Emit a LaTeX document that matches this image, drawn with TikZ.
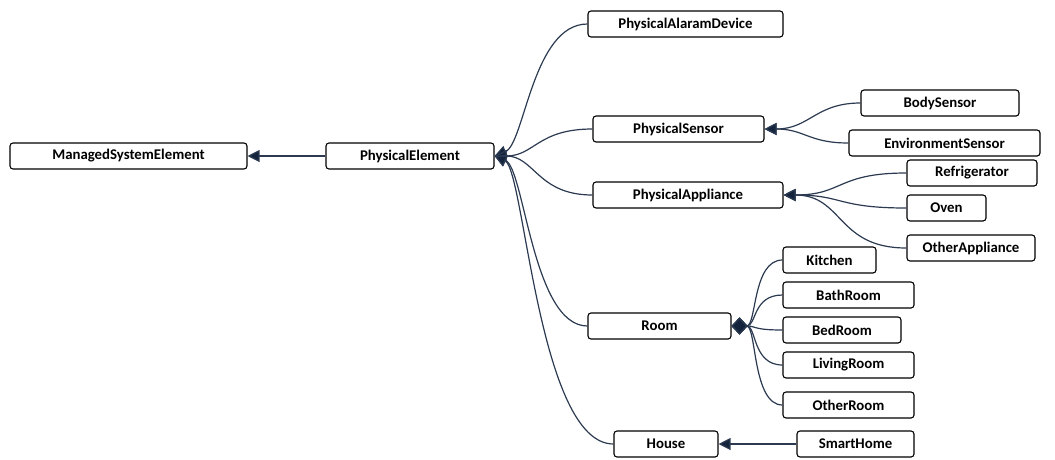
\documentclass[tikz,border=0pt]{standalone}
\usepackage{fontspec}
\setmainfont{Carlito}
\usetikzlibrary{arrows.meta}
\definecolor{linecol}{HTML}{2B3A50}
\definecolor{tipcol}{HTML}{14243C}
\tikzset{
  cls/.style={draw=black, line width=1.1pt, rounded corners=3pt, fill=white,
    minimum height=26pt, inner sep=0pt, font=\fontsize{14.8}{16}\selectfont\bfseries},
  gen/.style={draw=linecol, line width=1.2pt, -{Triangle[length=12pt,width=12pt,fill=tipcol]}},
  comp/.style={draw=linecol, line width=1.2pt, -{Diamond[length=16pt,width=17pt,fill=tipcol]}},
}
\begin{document}
\begin{tikzpicture}[x=1pt,y=-1pt]
\useasboundingbox (0,0) rectangle (1055,459);
% class boxes
\node[cls, minimum width=237pt] (mse)  at (128.5,156) {ManagedSystemElement};
\node[cls, minimum width=168pt] (pe)   at (410,156) {PhysicalElement};
\node[cls, minimum width=195pt] (pad)  at (685.5,24) {PhysicalAlaramDevice};
\node[cls, minimum width=171pt] (ps)   at (678.5,129) {PhysicalSensor};
\node[cls, minimum width=190pt] (pa)   at (688,195) {PhysicalAppliance};
\node[cls, minimum width=143pt] (room) at (659.5,326) {Room};
\node[cls, minimum width=104pt] (house) at (666,444) {House};
\node[cls, minimum width=158pt] (body) at (940,103) {BodySensor};
\node[cls, minimum width=191pt] (env)  at (944.5,143) {EnvironmentSensor};
\node[cls, minimum width=130pt] (fridge) at (972,173) {Refrigerator};
\node[cls, minimum width=79pt]  (oven) at (946.5,208) {Oven};
\node[cls, minimum width=128pt] (otherapp) at (971,248) {OtherAppliance};
\node[cls, minimum width=93pt]  (kitchen) at (829.5,260) {Kitchen};
\node[cls, minimum width=131pt] (bath) at (848.5,295) {BathRoom};
\node[cls, minimum width=118pt] (bed)  at (842,330) {BedRoom};
\node[cls, minimum width=131pt] (living) at (848.5,365) {LivingRoom};
\node[cls, minimum width=131pt] (otherroom) at (848.5,405) {OtherRoom};
\node[cls, minimum width=117pt] (smart) at (855.5,444) {SmartHome};
% generalisations
\draw[gen] (pe.west) -- (mse.east);
\draw[gen] (smart.west) -- (house.east);
\draw[gen] (pad.west) .. controls +(-55,0) and +(30,-12) .. (pe.east);
\draw[gen] (ps.west) .. controls +(-55,0) and +(40,0) .. (pe.east);
\draw[gen] (pa.west) .. controls +(-55,0) and +(40,0) .. (pe.east);
\draw[gen] (room.west) .. controls +(-55,0) and +(30,12) .. (pe.east);
\draw[gen] (house.west) .. controls +(-75,0) and +(30,14) .. (pe.east);
\draw[gen] (body.west) .. controls +(-45,0) and +(45,0) .. (ps.east);
\draw[gen] (env.west) .. controls +(-40,0) and +(40,0) .. (ps.east);
\draw[gen] (fridge.west) .. controls +(-70,0) and +(60,0) .. (pa.east);
\draw[gen] (oven.west) .. controls +(-70,0) and +(60,0) .. (pa.east);
\draw[gen] (otherapp.west) .. controls +(-70,0) and +(60,0) .. (pa.east);
% composition of rooms
\draw[comp] (kitchen.west) .. controls +(-30,0) and +(25,0) .. (room.east);
\draw[comp] (bath.west) .. controls +(-30,0) and +(25,0) .. (room.east);
\draw[comp] (bed.west) .. controls +(-30,0) and +(25,0) .. (room.east);
\draw[comp] (living.west) .. controls +(-30,0) and +(25,0) .. (room.east);
\draw[comp] (otherroom.west) .. controls +(-30,0) and +(25,0) .. (room.east);
\end{tikzpicture}
\end{document}
